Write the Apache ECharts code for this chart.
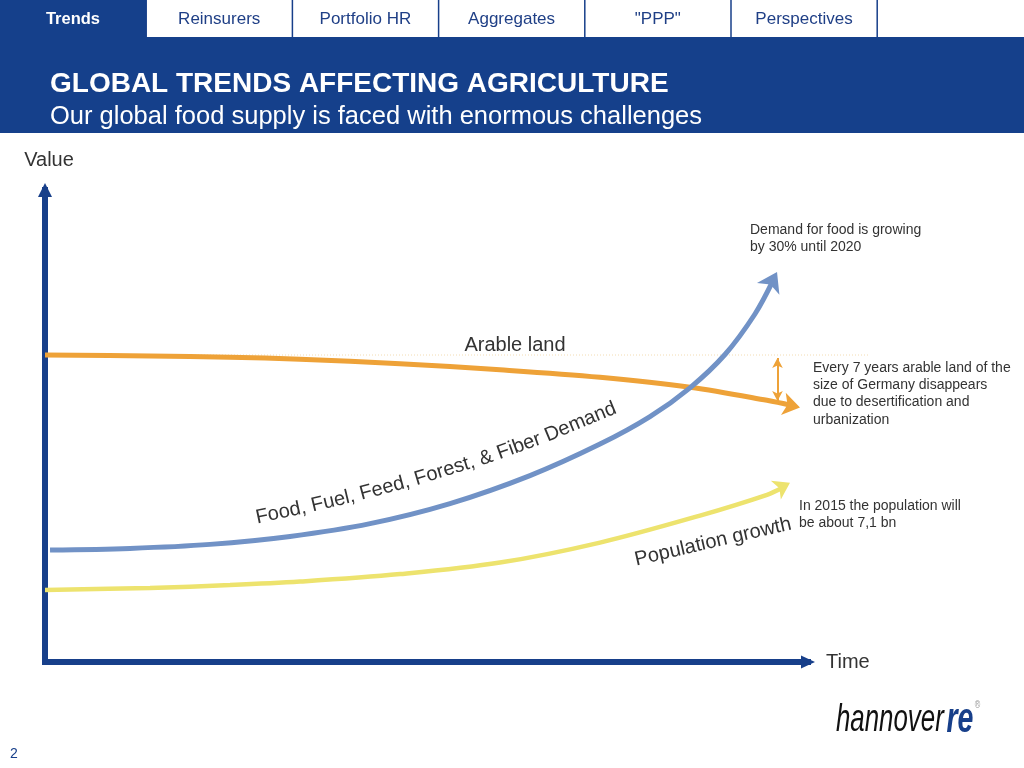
<!DOCTYPE html>
<html>
<head>
<meta charset="utf-8">
<script src="https://cdn.jsdelivr.net/npm/echarts@6/dist/echarts.min.js"></script>
<style>
html,body{margin:0;padding:0;background:#fff;}
#main{width:1024px;height:768px;}
</style>
</head>
<body>
<div id="main"></div>
<script>
// ---- data (conceptual units: time 0..100, value 0..100) ----
const tabs = ['Trends', 'Reinsurers', 'Portfolio HR', 'Aggregates', '"PPP"', 'Perspectives'];
const demandCurve = [[0.66,23.73],[11.14,24.07],[21.63,24.92],[32.11,26.61],[42.6,29.32],[53.08,33.56],[63.56,39.49],[72.74,46.17],[79.29,51.99],[84.53,58.09],[89.12,65.15],[93.05,73.73],[95.41,80.78]];
const demandTip = [95.94, 82.63];
const arableCurve = [[0,65.04],[13.76,64.83],[24.25,64.58],[33.42,64.13],[46.53,63.18],[59.63,61.91],[72.74,60.32],[84.53,58.22],[94.63,55.44],[97.9,54.32]];
const arableTip = [98.95, 53.94];
const populationCurve = [[0,15.25],[13.76,15.70],[24.25,16.29],[33.42,17.03],[46.53,18.62],[59.63,21.06],[72.74,25.30],[85.85,31.02],[94.63,35.42],[96.72,36.95]];
const populationTip = [97.64, 38.0];
const arableLoss = [[96.0,64.4],[96.0,55.3]];
const demandWords = ['Food,', 'Fuel,', 'Feed,', 'Forest,', '&', 'Fiber', 'Demand'];
const demandWordAngles = [12, 13.5, 15, 17, 18.5, 20, 22.5];

const NAVY = '#173f8a';
const BAND = '#15408b';
const BLUE = '#7192c6';
const ORANGE = '#eea238';
const YELLOW = '#ede36e';
const TXT = '#333333';
const FONT = '"Liberation Sans", Arial, Helvetica, sans-serif';

const chart = echarts.init(document.getElementById('main'), null, {renderer: 'canvas'});

function txt(x, y, text, size, opts) {
  opts = opts || {};
  return {
    type: 'text', x: x, y: y, rotation: opts.rot || 0, z: 10,
    style: {
      text: text, fill: opts.fill || TXT,
      font: (opts.style || 'normal') + ' ' + (opts.weight || 'normal') + ' ' + size + 'px ' + (opts.family || FONT),
      align: opts.align || 'left', textAlign: opts.align || 'left',
      verticalAlign: opts.va || 'middle', textVerticalAlign: opts.va || 'middle',
      lineHeight: opts.lh || undefined
    }
  };
}

const graphics = [];
// header band
graphics.push({type: 'rect', shape: {x: 0, y: 37, width: 1024, height: 96}, style: {fill: BAND}, z: 1});
// tabs
tabs.forEach(function (t, i) {
  const x0 = i * 146.2;
  const active = i === 0;
  graphics.push({type: 'rect', shape: {x: x0, y: 0, width: 146.2, height: 37},
    style: {fill: active ? BAND : '#ffffff'}, z: 1});
  graphics.push({type: 'line', shape: {x1: x0 + 146.2, y1: 0, x2: x0 + 146.2, y2: 37},
    style: {stroke: NAVY, lineWidth: 1.5}, z: 2});
  graphics.push(txt(x0 + 73, 19, t, active ? 16.5 : 17, {align: 'center', fill: active ? '#ffffff' : '#1f3f86', weight: active ? 'bold' : 'normal'}));
});
graphics.push(txt(50, 84, 'GLOBAL TRENDS AFFECTING AGRICULTURE', 28, {fill: '#ffffff', weight: 'bold'}));
graphics.push(txt(50, 117, 'Our global food supply is faced with enormous challenges', 25.5, {fill: '#ffffff'}));

// faint reference line for arable land level
graphics.push({type: 'line', shape: {x1: 45, y1: 355, x2: 870, y2: 355},
  style: {stroke: '#f3dcb2', lineWidth: 1, lineDash: [1, 2]}, z: 0});

// annotations
graphics.push(txt(515, 345, 'Arable land', 20, {align: 'center'}));
graphics.push(txt(750, 222, 'Demand for food is growing\nby 30% until 2020', 14, {va: 'top', lh: 17}));
graphics.push(txt(813, 359, 'Every 7 years arable land of the\nsize of Germany disappears\ndue to desertification and\nurbanization', 14, {va: 'top', lh: 17.4}));
graphics.push(txt(799, 498, 'In 2015 the population will\nbe about 7,1 bn', 14, {va: 'top', lh: 17}));
graphics.push(txt(713, 542, 'Population growth', 20, {align: 'center', rot: 13 * Math.PI / 180}));

// curved label along demand curve (one word at a time, advancing along the baseline)
(function () {
  const ctx = document.createElement('canvas').getContext('2d');
  ctx.font = '20px ' + FONT;
  const space = ctx.measureText(' ').width;
  let px = 256, py = 518;
  demandWords.forEach(function (w, i) {
    const a = demandWordAngles[i] * Math.PI / 180;
    const wd = ctx.measureText(w).width;
    const cx = px + Math.cos(a) * wd / 2, cy = py - Math.sin(a) * wd / 2;
    graphics.push(txt(cx, cy, w, 20, {align: 'center', rot: a}));
    px += Math.cos(a) * (wd + space);
    py -= Math.sin(a) * (wd + space);
  });
})();

// page number
graphics.push(txt(10, 754, '2', 14, {fill: NAVY}));
// logo
graphics.push({
  type: 'text', x: 836, y: 720, z: 10, scaleX: 0.68,
  style: {
    text: '{a|hannover}{b|re}{c|®}',
    verticalAlign: 'middle', textVerticalAlign: 'middle',
    rich: {
      a: {fontFamily: FONT, fontStyle: 'italic', fontWeight: 'normal', fontSize: 38, fill: '#111111', padding: [0, 4, 0, 0]},
      b: {fontFamily: FONT, fontStyle: 'italic', fontWeight: 'bold', fontSize: 42, fill: NAVY},
      c: {fontFamily: FONT, fontSize: 11, fill: '#999999', verticalAlign: 'top', padding: [0, 0, 22, 2]}
    }
  }
});

// arrowheads: a short invisible segment from the curve end to the tip, with an arrow symbol at the tip
function arrowHead(curve, tip, color, size) {
  return {
    type: 'lines', coordinateSystem: 'cartesian2d', polyline: false, silent: true, z: 4,
    symbol: ['none', 'arrow'], symbolSize: size,
    lineStyle: {color: color, width: 0, opacity: 1, curveness: 0},
    data: [{coords: [curve[curve.length - 2], tip]}]
  };
}

const option = {
  animation: false,
  backgroundColor: '#ffffff',
  textStyle: {fontFamily: FONT},
  grid: {left: 45, right: 216, top: 190, bottom: 106, containLabel: false},
  xAxis: {
    type: 'value', min: 0, max: 100,
    name: 'Time', nameLocation: 'end', nameGap: 18,
    nameTextStyle: {fontSize: 20, color: TXT, fontFamily: FONT, verticalAlign: 'middle', align: 'left'},
    axisLine: {show: true, onZero: false, symbol: ['none', 'triangle'], symbolSize: [13, 14],
      lineStyle: {color: NAVY, width: 6, cap: 'square'}},
    axisTick: {show: false}, axisLabel: {show: false}, splitLine: {show: false}
  },
  yAxis: {
    type: 'value', min: 0, max: 100,
    name: 'Value', nameLocation: 'end', nameGap: 20,
    nameTextStyle: {fontSize: 20, color: TXT, fontFamily: FONT, padding: [0, 0, 0, 8]},
    axisLine: {show: true, onZero: false, symbol: ['none', 'triangle'], symbolSize: [14, 14],
      lineStyle: {color: NAVY, width: 6, cap: 'square'}},
    axisTick: {show: false}, axisLabel: {show: false}, splitLine: {show: false}
  },
  graphic: {elements: graphics},
  series: [
    {
      name: 'Arable land', type: 'line', data: arableCurve, smooth: 0.35, showSymbol: false,
      lineStyle: {color: ORANGE, width: 5}, z: 3, silent: true,
      markLine: {
        silent: true, symbol: ['arrow', 'arrow'], symbolSize: [8, 10],
        label: {show: false},
        lineStyle: {color: ORANGE, width: 2, type: 'solid'},
        data: [[{coord: arableLoss[0]}, {coord: arableLoss[1]}]]
      }
    },
    arrowHead(arableCurve, arableTip, ORANGE, 17),
    {
      name: 'Food, Fuel, Feed, Forest, & Fiber Demand', type: 'line', data: demandCurve, smooth: 0.35, showSymbol: false,
      lineStyle: {color: BLUE, width: 5}, z: 3, silent: true
    },
    arrowHead(demandCurve, demandTip, BLUE, 19),
    {
      name: 'Population growth', type: 'line', data: populationCurve, smooth: 0.35, showSymbol: false,
      lineStyle: {color: YELLOW, width: 4.5}, z: 3, silent: true
    },
    arrowHead(populationCurve, populationTip, YELLOW, 16)
  ]
};
chart.setOption(option);
</script>
</body>
</html>
